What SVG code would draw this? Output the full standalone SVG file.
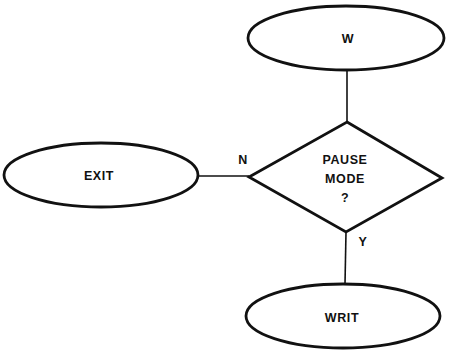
<svg xmlns="http://www.w3.org/2000/svg" width="449" height="354" viewBox="0 0 449 354">
<style>
.shape{fill:none;stroke:#111;stroke-width:2.8}
.conn{fill:none;stroke:#111;stroke-width:1.6}
text{font-family:"Liberation Sans",Arial,sans-serif;font-size:12.5px;font-weight:bold;fill:#111;text-anchor:middle;dominant-baseline:central;letter-spacing:0.6px}
</style>
<rect width="449" height="354" fill="#fff"/>
<g id="connectors">
<line class="conn" x1="347" y1="70" x2="347" y2="122"/>
<line class="conn" x1="198" y1="176" x2="249" y2="176"/>
<line class="conn" x1="346" y1="232" x2="345" y2="284"/>
<text x="243" y="160">N</text>
<text x="363" y="242">Y</text>
</g>
<g id="W">
<ellipse class="shape" cx="346" cy="38" rx="98" ry="32"/>
<text x="348" y="39">W</text>
</g>
<g id="EXIT">
<ellipse class="shape" cx="101" cy="175" rx="97" ry="32"/>
<text x="99" y="176">EXIT</text>
</g>
<g id="PAUSE">
<polygon class="shape" points="347,122 442,178 346,232 249,177"/>
<text x="345" y="160">PAUSE</text>
<text x="345" y="179">MODE</text>
<text x="345" y="198">?</text>
</g>
<g id="WRIT">
<ellipse class="shape" cx="343" cy="316" rx="97" ry="32"/>
<text x="342" y="318">WRIT</text>
</g>
</svg>
